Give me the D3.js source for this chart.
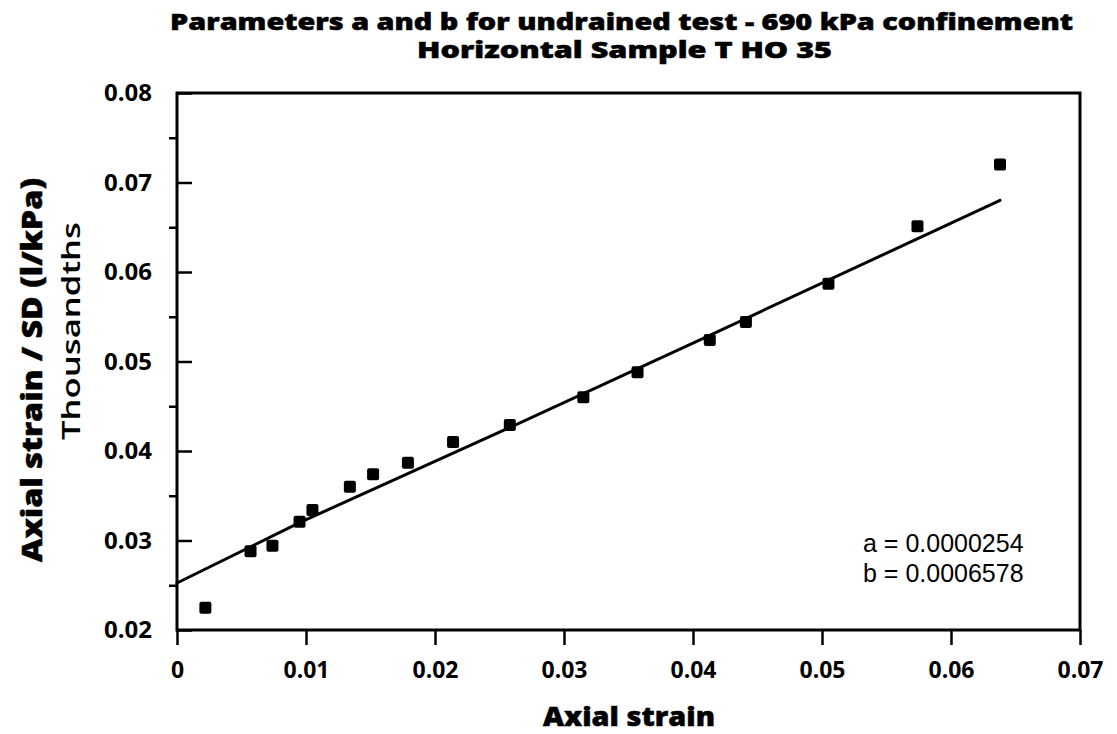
<!DOCTYPE html>
<html>
<head>
<meta charset="utf-8">
<script src="https://cdn.jsdelivr.net/npm/d3@7"></script>
<style>
  body { margin: 0; background: #fff; }
  text { fill: #000; }
</style>
</head>
<body>
<svg width="1117" height="734"></svg>
<script>
// measured points (axial strain, axial strain / SD in thousandths)
var strain = [0.0022, 0.0057, 0.0074, 0.0095, 0.0105, 0.0134, 0.0152, 0.0179, 0.0214, 0.0258,
              0.0315, 0.0357, 0.0413, 0.0441, 0.0505, 0.0574, 0.0638];
var ratio  = [0.0225, 0.0288, 0.0294, 0.0321, 0.0334, 0.0360, 0.0374, 0.0387, 0.0410, 0.0429,
              0.0460, 0.0488, 0.0524, 0.0544, 0.0587, 0.0651, 0.0720];
// fitted line
var fitX = [0, 0.0095, 0.0250, 0.0405, 0.0638];
var fitY = [0.02525, 0.0320, 0.0421, 0.0524, 0.0680];

var xTicks = [0, 0.01, 0.02, 0.03, 0.04, 0.05, 0.06, 0.07];
var yTicks = [0.02, 0.03, 0.04, 0.05, 0.06, 0.07, 0.08];
var yMinor = [0.025, 0.035, 0.045, 0.055, 0.065, 0.075];

var titleLines = ["Parameters a and b for undrained test - 690  kPa confinement", "Horizontal Sample T HO 35"];
var titleWidths = [903, 415];
var notes = ["a = 0.0000254", "b = 0.0006578"];

var svg = d3.select("svg"),
    margin = {top: 93, right: 37, bottom: 104, left: 177},
    width = +svg.attr("width") - margin.left - margin.right,
    height = +svg.attr("height") - margin.top - margin.bottom;

var x = d3.scaleLinear().domain([0, 0.07]).range([0, width]),
    y = d3.scaleLinear().domain([0.02, 0.08]).range([height, 0]);

var g = svg.append("g")
    .attr("transform", "translate(" + margin.left + "," + margin.top + ")");

var bold = "'Open Sans', Lato, sans-serif";

// title (stretched to the width of the original heavy face)
svg.selectAll(".title")
    .data(titleLines)
    .enter().append("text")
    .attr("class", "title")
    .attr("x", function(d, i) { return i == 0 ? 170 : 417; })
    .attr("y", function(d, i) { return 30 + i * 28; })
    .attr("textLength", function(d, i) { return titleWidths[i]; })
    .attr("lengthAdjust", "spacingAndGlyphs")
    .style("font-family", bold)
    .style("font-weight", "800")
    .style("font-size", "22px")
    .style("stroke", "#000").style("stroke-width", 0.5)
    .text(function(d) { return d; });

// x axis, ticks pointing down
var xAxis = g.append("g")
    .attr("transform", "translate(0," + height + ")")
    .call(d3.axisBottom(x).tickValues(xTicks).tickSize(15).tickPadding(15)
        .tickFormat(function(d) { return d === 0 ? "0" : d3.format(".2f")(d); }));
xAxis.select(".domain").remove();
xAxis.selectAll("line").attr("stroke-width", 2.5);
xAxis.selectAll("text")
    .attr("dy", null).attr("y", 48)
    .style("font-family", bold).style("font-weight", "700").style("font-size", "23px");

// y axis, major ticks inward
var yAxis = g.append("g")
    .call(d3.axisLeft(y).tickValues(yTicks).tickSize(-15).tickPadding(25)
        .tickFormat(d3.format(".2f")));
yAxis.select(".domain").remove();
yAxis.selectAll("line").attr("stroke-width", 2.5);
yAxis.selectAll("text")
    .style("font-family", bold).style("font-weight", "700").style("font-size", "24px");

// minor y ticks outward
g.append("g")
    .call(d3.axisLeft(y).tickValues(yMinor).tickSize(8).tickFormat(""))
    .call(function(s) { s.select(".domain").remove(); })
    .selectAll("line").attr("stroke-width", 2.5);

// frame
g.append("rect")
    .attr("width", width).attr("height", height)
    .attr("fill", "none").attr("stroke", "#000").attr("stroke-width", 3);

// fit line
var line = d3.line()
    .x(function(d, i) { return x(fitX[i]); })
    .y(function(d) { return y(d); });
g.append("path")
    .datum(fitY)
    .attr("d", line)
    .attr("fill", "none")
    .attr("stroke", "#000")
    .attr("stroke-width", 3)
    .attr("stroke-linecap", "round");

// points
g.selectAll(".pt")
    .data(strain)
    .enter().append("rect")
    .attr("class", "pt")
    .attr("x", function(d) { return x(d) - 6; })
    .attr("y", function(d, i) { return y(ratio[i]) - 6; })
    .attr("width", 12).attr("height", 12)
    .attr("rx", 2)
    .attr("fill", "#000");

// a, b annotations
g.selectAll(".note")
    .data(notes)
    .enter().append("text")
    .attr("class", "note")
    .attr("x", 863 - margin.left)
    .attr("y", function(d, i) { return 552 - margin.top + i * 30; })
    .style("font-family", "'Liberation Sans', Arial, sans-serif")
    .style("font-size", "25px")
    .text(function(d) { return d; });

// axis titles
svg.append("text")
    .attr("x", 543).attr("y", 726)
    .attr("textLength", 172)
    .attr("lengthAdjust", "spacingAndGlyphs")
    .style("font-family", bold).style("font-weight", "800").style("font-size", "27px")
    .style("stroke", "#000").style("stroke-width", 0.5)
    .text("Axial strain");

svg.append("text")
    .attr("transform", "translate(42,562) rotate(-90)")
    .attr("textLength", 384)
    .attr("lengthAdjust", "spacingAndGlyphs")
    .style("font-family", bold).style("font-weight", "800").style("font-size", "28px")
    .style("stroke", "#000").style("stroke-width", 0.5)
    .text("Axial strain / SD  (l/kPa)");

svg.append("text")
    .attr("transform", "translate(80,440) rotate(-90)")
    .attr("textLength", 218)
    .attr("lengthAdjust", "spacingAndGlyphs")
    .style("font-family", bold).style("font-weight", "600").style("font-size", "25px")
    .text("Thousandths");
</script>
</body>
</html>
